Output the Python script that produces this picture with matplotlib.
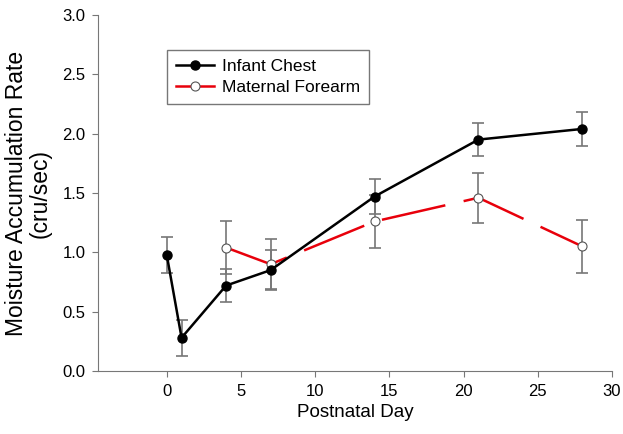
import numpy as np
import matplotlib
matplotlib.use('Agg')
import matplotlib.pyplot as plt
from matplotlib.ticker import FormatStrFormatter

plt.rcParams['font.family'] = ['Liberation Sans', 'DejaVu Sans']

# infant chest
chest_day = [0, 1, 4, 7, 14, 21, 28]
chest_rate = [0.98, 0.28, 0.72, 0.85, 1.47, 1.95, 2.04]
chest_err = [0.15, 0.15, 0.14, 0.17, 0.15, 0.14, 0.14]

# maternal forearm
arm_day = [4, 7, 14, 21, 28]
arm_rate = [1.04, 0.90, 1.26, 1.46, 1.05]
arm_err = [0.22, 0.21, 0.22, 0.21, 0.22]

fig = plt.figure(figsize=(6.23, 4.34), dpi=100)
ax = fig.add_axes([98 / 623, 1 - 371 / 434, 514 / 623, 356 / 434])

grey = '#777777'
ax.errorbar(arm_day, arm_rate, yerr=arm_err, fmt='none', ecolor=grey,
            elinewidth=1.2, capsize=4, capthick=1.2, zorder=1)
ax.errorbar(chest_day, chest_rate, yerr=chest_err, fmt='none', ecolor=grey,
            elinewidth=1.2, capsize=4, capthick=1.2, zorder=1)

ax.plot(arm_day, arm_rate, color='#e8000b', lw=1.8, dashes=(26, 7.5),
        marker='o', ms=6.5, mfc='white', mec='#555555', mew=0.8,
        label='Maternal Forearm', zorder=2)
ax.plot(chest_day, chest_rate, color='black', lw=1.8, marker='o', ms=6.5,
        mfc='black', mec='black', label='Infant Chest', zorder=3)

ax.set_xlim(-4.63, 30)
ax.set_ylim(0, 3.0)
ax.set_xticks([0, 5, 10, 15, 20, 25, 30])
ax.set_yticks(np.arange(0, 3.01, 0.5))
ax.yaxis.set_major_formatter(FormatStrFormatter('%.1f'))
ax.tick_params(direction='out', length=4, labelsize=12, color=grey, pad=5)
for s in ['top', 'right']:
    ax.spines[s].set_visible(False)
for s in ['left', 'bottom']:
    ax.spines[s].set_color(grey)

ax.set_xlabel('Postnatal Day', fontsize=13.5, labelpad=4)
ax.set_ylabel('Moisture Accumulation Rate\n(cru/sec)', fontsize=16.5,
              labelpad=8, linespacing=1.0)

h, l = ax.get_legend_handles_labels()
leg = ax.legend(h[::-1], l[::-1], loc='upper left', bbox_to_anchor=(0.134, 0.902),
                fontsize=12.5, fancybox=False, framealpha=1, edgecolor=grey,
                handlelength=2.2, handletextpad=0.5, borderpad=0.5,
                labelspacing=0.35, borderaxespad=0)
leg.get_frame().set_linewidth(1.0)
leg.legend_handles[1].set_dashes([])
leg.legend_handles[1].set_linestyle('-')

fig.savefig('out.png', dpi=100)
